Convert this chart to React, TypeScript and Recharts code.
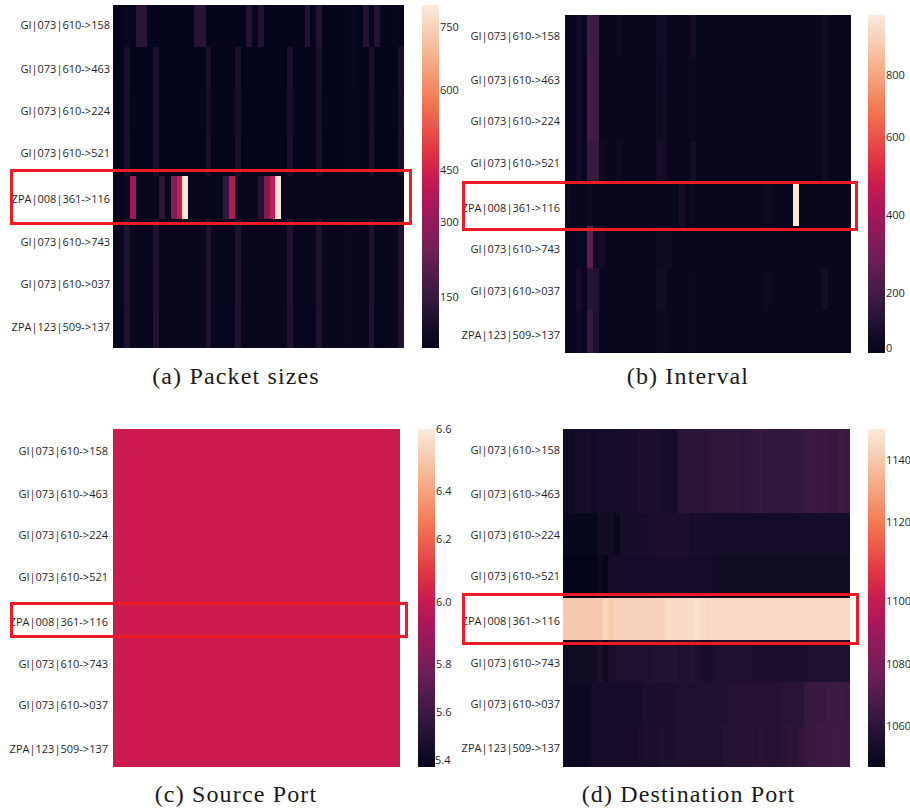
import React from "react";
import { BarChart, Bar, Cell, XAxis, YAxis } from "recharts";

const rowLabels = ["GI|073|610->158", "GI|073|610->463", "GI|073|610->224", "GI|073|610->521", "ZPA|008|361->116", "GI|073|610->743", "GI|073|610->037", "ZPA|123|509->137"];

// (a) Packet sizes
const packetRow0 = [42,42,50,42,120,120,42,42,42,42, 42,42,42,42,120,120,42,42,42,42, 42,42,42,110,42,110,42,42,42,42, 42,42,42,110,42,110,42,42,42,42, 46,46,42,110,42,110,42,42,46,42];
const packetRow1 = [42,42,90,42,42,42,42,90,42,42, 42,42,42,42,42,42,90,42,42,42, 42,90,42,42,42,42,42,42,42,42, 90,42,42,42,42,90,42,42,42,42, 46,46,42,42,90,42,42,42,42,90];
const packetRow2 = [42,42,88,42,42,42,42,88,42,42, 42,42,42,42,42,42,88,42,42,42, 42,88,42,42,42,42,42,42,42,42, 88,42,42,42,42,88,42,42,42,42, 44,44,42,42,88,42,42,42,42,88];
const packetRow3 = [42,42,92,42,42,42,42,92,42,42, 42,42,42,42,42,42,92,42,42,42, 42,92,42,42,42,42,42,42,42,42, 92,42,42,42,42,92,42,42,42,42, 44,44,42,42,92,42,42,42,42,92];
const packetRow4 = [45,45,55,345,45,45,45,50,130,48, 285,420,795,45,45,45,46,46,50,140, 375,48,45,45,48,110,280,420,795,45, 45,45,45,45,45,45,45,45,45,45, 45,45,45,45,45,45,45,45,45,45];
const packetRow5 = [50,50,100,50,50,50,50,100,50,50, 50,50,50,50,50,50,100,50,50,50, 50,100,50,50,50,50,50,50,50,50, 100,50,50,50,50,100,50,50,50,50, 52,52,50,50,100,50,50,50,50,100];
const packetRow6 = [50,50,102,50,50,50,50,102,50,50, 50,50,50,50,50,50,102,50,50,50, 50,102,50,50,50,50,50,50,50,50, 102,50,50,50,50,102,50,50,50,50, 52,52,50,50,102,50,50,50,50,102];
const packetRow7 = [50,50,104,50,50,50,50,104,50,50, 50,50,50,50,50,50,104,50,50,50, 50,104,50,50,50,50,50,50,50,50, 104,50,50,50,50,104,50,50,50,50, 52,52,50,50,104,50,50,50,50,104];
const packetTicks = [150, 300, 450, 600, 750];

// (b) Interval
const intervalRow0 = [0,0,28,0,150,150,4,0,0,18, 0,0,0,0,0,0,30,25,0,0, 0,0,38,0,0,0,0,0,0,0, 0,0,0,0,0,0,0,0,0,0, 0,0,0,0,0,28,0,0,0,0];
const intervalRow1 = [0,0,30,0,170,150,0,0,0,0, 0,0,0,0,0,0,20,25,0,0, 0,0,6,0,0,0,0,0,0,0, 0,0,0,0,0,0,0,0,0,0, 0,0,0,0,0,24,0,0,0,0];
const intervalRow2 = [0,0,30,0,170,150,0,0,0,0, 0,0,0,0,0,0,18,24,0,0, 0,0,6,0,0,0,0,0,0,0, 0,0,0,0,0,0,0,0,0,0, 0,0,0,0,0,24,0,0,0,0];
const intervalRow3 = [0,0,28,0,130,130,12,0,0,20, 0,0,0,0,0,0,35,30,0,0, 0,0,40,0,0,0,0,0,0,0, 0,0,0,0,0,0,0,0,0,0, 0,0,0,0,0,24,0,0,0,0];
const intervalRow4 = [18,0,0,0,10,0,0,0,0,0, 0,0,0,0,0,0,0,0,0,0, 38,0,8,0,6,0,0,0,0,0, 0,0,0,0,0,12,0,0,0,0, 960,0,0,0,0,0,0,0,0,0];
const intervalRow5 = [0,0,6,0,215,20,38,0,0,0, 0,0,0,0,0,0,12,20,18,0, 0,0,0,0,0,0,0,0,0,0, 0,0,0,0,0,0,0,0,0,0, 0,0,0,0,0,0,0,0,0,0];
const intervalRow6 = [0,0,38,0,90,80,6,0,0,0, 0,0,0,0,0,0,26,25,0,0, 0,0,4,0,0,0,0,0,0,0, 0,0,0,0,0,12,0,0,0,0, 0,0,0,0,0,40,0,0,0,0];
const intervalRow7 = [0,0,20,0,130,70,4,0,0,0, 0,0,0,0,0,0,10,12,0,0, 0,0,6,0,0,0,0,0,0,0, 0,0,0,0,0,0,0,0,0,0, 0,0,0,0,0,0,0,0,0,0];
const intervalTicks = [0, 200, 400, 600, 800];

// (c) Source Port
const sourceRow = [6,6,6,6,6,6,6,6,6,6, 6,6,6,6,6,6,6,6,6,6, 6,6,6,6,6,6,6,6,6,6, 6,6,6,6,6,6,6,6,6,6, 6,6,6,6,6,6,6,6,6,6];
const sourceTicks = [5.4, 5.6, 5.8, 6.0, 6.2, 6.4, 6.6];

// (d) Destination Port
const destRow0 = [1052,1052,1053,1053,1053,1052,1053,1053,1053,1054, 1054,1054,1054,1055,1055,1055,1055,1054,1054,1053, 1059,1059,1059,1059,1059,1060,1060,1060,1060,1060, 1061,1060,1061,1061,1062,1061,1061,1061,1061,1061, 1061,1062,1063,1064,1063,1063,1062,1062,1064,1063];
const destRow1 = [1052,1052,1053,1053,1053,1052,1053,1053,1053,1054, 1054,1054,1054,1055,1055,1055,1055,1054,1054,1053, 1059,1059,1059,1059,1059,1060,1060,1060,1060,1060, 1061,1060,1061,1061,1062,1061,1061,1061,1061,1061, 1061,1062,1063,1064,1063,1063,1062,1062,1064,1063];
const destRow2 = [1049,1049,1049,1049,1049,1049,1052,1052,1052,1049, 1054,1054,1054,1054,1054,1054,1055,1055,1055,1055, 1055,1055,1054,1054,1054,1054,1053,1053,1053,1053, 1053,1053,1053,1053,1053,1053,1053,1053,1053,1053, 1053,1053,1053,1053,1053,1053,1053,1053,1053,1053];
const destRow3 = [1048,1048,1048,1048,1048,1048,1051,1048,1053,1053, 1053,1053,1053,1053,1053,1053,1054,1054,1054,1054, 1054,1054,1053,1053,1053,1053,1052,1052,1052,1052, 1052,1052,1052,1052,1052,1052,1052,1052,1052,1052, 1052,1052,1052,1052,1052,1052,1052,1052,1052,1052];
const destRow4 = [1140,1140,1140,1140,1140,1140,1140,1144,1141,1143, 1143,1143,1143,1143,1143,1143,1143,1143,1145,1145, 1145,1145,1145,1147,1145,1144.5,1144.5,1144.5,1144.5,1144.5, 1144.5,1144.5,1144.5,1144.5,1144.5,1144.5,1144.5,1144.5,1144.5,1144.5, 1144.5,1144.5,1144.5,1144.5,1144.5,1144.5,1144.5,1144.5,1144.5,1144.5];
const destRow5 = [1052,1052,1052,1052,1052,1052,1055,1050,1055,1056, 1056,1056,1056,1056,1056,1056,1057,1057,1057,1057, 1056,1056,1058,1056,1054,1054,1055,1056,1056,1056, 1056,1056,1056,1055,1055,1055,1055,1055,1055,1055, 1055,1055,1055,1056,1056,1056,1056,1056,1056,1056];
const destRow6 = [1051,1051,1051,1051,1051,1053,1053,1053,1053,1053, 1053,1053,1053,1053,1055,1055,1055,1055,1055,1055, 1056,1056,1056,1056,1056,1056,1056,1056,1056,1058, 1058,1058,1058,1058,1058,1058,1058,1058,1059,1059, 1059,1059,1062,1063,1063,1063,1064,1064,1064,1063];
const destRow7 = [1051,1051,1051,1051,1051,1053,1053,1053,1053,1053, 1053,1053,1053,1054,1055,1055,1055,1056,1055,1055, 1056,1056,1056,1056,1056,1056,1056,1056,1057,1058, 1058,1058,1058,1058,1059,1058,1058,1058,1059,1060, 1059,1060,1062,1063,1064,1064,1064,1065,1064,1064];
const destTicks = [1060, 1080, 1100, 1120, 1140];

const rocketPositions = [0, 1 / 7, 2 / 7, 3 / 7, 0.5, 4 / 7, 5 / 7, 6 / 7, 1];
const rocketColours = ["#03051a", "#35193e", "#701f57", "#ad1759", "#cb1b4f", "#e13342", "#f37651", "#f6b48f", "#faebdd"];

function hexParts(h: string) {
  return [1, 3, 5].map((i) => parseInt(h.slice(i, i + 2), 16));
}
function rocket(t: number) {
  const c = Math.max(0, Math.min(1, t));
  let i = 0;
  while (i < rocketPositions.length - 2 && c > rocketPositions[i + 1]) i++;
  const a = hexParts(rocketColours[i]);
  const b = hexParts(rocketColours[i + 1]);
  const f = (c - rocketPositions[i]) / (rocketPositions[i + 1] - rocketPositions[i]);
  return `rgb(${a.map((v, k) => Math.round(v + (b[k] - v) * f)).join(",")})`;
}

const LABEL_FONT = "'Open Sans', sans-serif";
const COLUMN_KEYS = sourceRow.map((_, j) => `c${j}`);
const BAR_PAD = 10;

type PanelSpec = {
  id: string;
  caption: string;
  rows: number[][];
  domain: [number, number];
  ticks: number[];
  digits: number;
  plot: { x: number; y: number; w: number; h: number };
  barX: number;
  labelGap: number;
  rowNudge: number[];
  tickNudge: number[];
  tickShift: number[];
  box: { x: number; y: number; w: number; h: number };
  captionX: number;
  captionY: number;
};

const panels: PanelSpec[] = [
  {
    id: "a", caption: "(a) Packet sizes",
    rows: [packetRow0, packetRow1, packetRow2, packetRow3, packetRow4, packetRow5, packetRow6, packetRow7],
    domain: [37, 799], ticks: packetTicks, digits: 0,
    plot: { x: 113, y: 5, w: 291, h: 343 }, barX: 422, labelGap: 3,
    rowNudge: [-1.5, 0, -1.5, -2, 1, 1, 0, 1],
    tickNudge: [0, -7, 8, -4, 0], tickShift: [0, 0, 0, 0, 0],
    box: { x: 10, y: 169, w: 402, h: 56 }, captionX: 236, captionY: 376,
  },
  {
    id: "b", caption: "(b) Interval",
    rows: [intervalRow0, intervalRow1, intervalRow2, intervalRow3, intervalRow4, intervalRow5, intervalRow6, intervalRow7],
    domain: [-15, 975], ticks: intervalTicks, digits: 0,
    plot: { x: 565, y: 15, w: 286, h: 338 }, barX: 868, labelGap: 5,
    rowNudge: [0.5, 2, 1, 0, 2.7, 2, 1.7, 3],
    tickNudge: [0, 14, 4, -6, 0], tickShift: [0, 0, 0, 0, 0],
    box: { x: 462, y: 181, w: 396, h: 50 }, captionX: 688, captionY: 376,
  },
  {
    id: "c", caption: "(c) Source Port",
    rows: [sourceRow, sourceRow, sourceRow, sourceRow, sourceRow, sourceRow, sourceRow, sourceRow],
    domain: [5.4, 6.6], ticks: sourceTicks, digits: 1,
    plot: { x: 113, y: 429, w: 287, h: 338 }, barX: 418, labelGap: 5,
    rowNudge: [0.6, 2, 0.4, 0, 2.6, 2.3, 1.7, 3],
    tickNudge: [-7, 1, 10, 4, -3, 6, 0], tickShift: [-1, 0, 0, 0, 0, 0, 0],
    box: { x: 10, y: 602, w: 398, h: 36 }, captionX: 236, captionY: 794,
  },
  {
    id: "d", caption: "(d) Destination Port",
    rows: [destRow0, destRow1, destRow2, destRow3, destRow4, destRow5, destRow6, destRow7],
    domain: [1047.8, 1149.3], ticks: destTicks, digits: 0,
    plot: { x: 563, y: 429, w: 287, h: 338 }, barX: 868, labelGap: 3,
    rowNudge: [0, 1.6, 0.4, -1, 2, 2, 1, 2],
    tickNudge: [0, 4, 8, -4, 0], tickShift: [0, 0, 0, 0, 0],
    box: { x: 462, y: 593, w: 397, h: 52 }, captionX: 688.5, captionY: 794,
  },
];

function Heatmap({ p }: { p: PanelSpec }) {
  const colour = (v: number) => rocket((v - p.domain[0]) / (p.domain[1] - p.domain[0]));
  const data = p.rows.map((_, i) => {
    const row: Record<string, string | number> = { label: rowLabels[i] };
    COLUMN_KEYS.forEach((k) => { row[k] = 1; });
    return row;
  });
  const RowTick = (props: any) => (
    <text x={props.x + 8 - p.labelGap} y={props.y + p.rowNudge[props.index]} dy="0.35em" textAnchor="end"
      fontFamily={LABEL_FONT} fontSize={11} fill="#1f1f1f">{props.payload.value}</text>
  );
  return (
    <div style={{ position: "absolute", left: p.plot.x - 110, top: p.plot.y }}>
      <BarChart width={p.plot.w + 110} height={p.plot.h} data={data} layout="vertical"
        margin={{ top: 0, right: 0, bottom: 0, left: 0 }} barCategoryGap={0} barGap={0}>
        <XAxis type="number" hide domain={[0, COLUMN_KEYS.length]} />
        <YAxis type="category" dataKey="label" width={110} interval={0} axisLine={false} tickLine={false} tick={RowTick} />
        {COLUMN_KEYS.map((k, j) => (
          <Bar key={k} dataKey={k} stackId="cells" isAnimationActive={false}>
            {p.rows.map((r, i) => (
              <Cell key={i} fill={colour(r[j])} stroke={colour(r[j])} strokeWidth={1} shapeRendering="crispEdges" />
            ))}
          </Bar>
        ))}
      </BarChart>
    </div>
  );
}

function Colorbar({ p }: { p: PanelSpec }) {
  const gid = `rocket-${p.id}`;
  const ValueTick = (props: any) => {
    const idx = p.ticks.indexOf(props.payload.value);
    return (
      <text x={props.x - 7 + p.tickShift[idx]} y={props.y + p.tickNudge[idx]} dy="0.35em" textAnchor="start"
        fontFamily={LABEL_FONT} fontSize={11} fill="#1f1f1f">{props.payload.value.toFixed(p.digits)}</text>
    );
  };
  return (
    <div style={{ position: "absolute", left: p.barX, top: p.plot.y - BAR_PAD }}>
      <BarChart width={62} height={p.plot.h + 2 * BAR_PAD} data={[{ name: p.id, range: p.domain }]}
        margin={{ top: BAR_PAD, right: 0, bottom: BAR_PAD, left: 0 }} barCategoryGap={0}>
        <defs>
          <linearGradient id={gid} x1="0" y1="1" x2="0" y2="0">
            {rocketColours.map((c, i) => (
              <stop key={c} offset={rocketPositions[i]} stopColor={c} />
            ))}
          </linearGradient>
        </defs>
        <XAxis dataKey="name" hide />
        <YAxis orientation="right" type="number" width={45} domain={p.domain} ticks={p.ticks} interval={0}
          allowDataOverflow axisLine={false} tickLine={false} tick={ValueTick} />
        <Bar dataKey="range" fill={`url(#${gid})`} isAnimationActive={false} />
      </BarChart>
    </div>
  );
}

export default function App() {
  return (
    <div style={{ position: "absolute", left: 0, top: 0, width: 910, height: 810, overflow: "hidden", background: "#fff" }}>
      {panels.map((p) => (
        <React.Fragment key={p.id}>
          <Heatmap p={p} />
          <Colorbar p={p} />
          <div style={{ position: "absolute", left: p.box.x, top: p.box.y, width: p.box.w, height: p.box.h,
            boxSizing: "border-box", border: "3px solid #ed1c24" }} />
          <div style={{ position: "absolute", left: p.captionX - 150, width: 300, top: p.captionY - 15, height: 30,
            lineHeight: "30px", textAlign: "center", fontFamily: "'Liberation Serif', serif", fontSize: 24,
            letterSpacing: 1.15, color: "#1a1a1a" }}>{p.caption}</div>
        </React.Fragment>
      ))}
    </div>
  );
}
